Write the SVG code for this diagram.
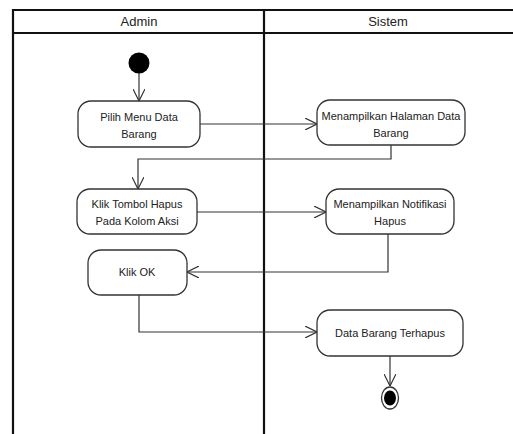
<svg xmlns="http://www.w3.org/2000/svg" width="513" height="434" viewBox="0 0 513 434">
<style>
.lane{stroke:#111;stroke-width:2.2;fill:none}
.node rect{fill:#fff;stroke:#333;stroke-width:1.3}
.node text{font-family:"Liberation Sans",Arial,sans-serif;font-size:11px;fill:#222;text-anchor:middle}
.hdr{font-family:"Liberation Sans",Arial,sans-serif;font-size:13px;fill:#222;text-anchor:middle}
.conn path{stroke:#333;stroke-width:1.2;fill:none}
</style>
<defs>
<marker id="arr" viewBox="0 0 12 12" refX="12" refY="6" markerWidth="12" markerHeight="12" markerUnits="userSpaceOnUse" orient="auto">
<path d="M0,0 L12,6 L0,12" fill="none" stroke="#333" stroke-width="1.2"/>
</marker>
</defs>
<rect width="513" height="434" fill="#fff"/>
<g id="lanes">
<path class="lane" d="M13,434 V10 H513 M13,33 H513 M264,10 V434"/>
<text class="hdr" x="139" y="26">Admin</text>
<text class="hdr" x="388" y="26">Sistem</text>
</g>
<g class="conn" id="connectors">
<path d="M139,73 V101" marker-end="url(#arr)"/>
<path d="M200,124 H317" marker-end="url(#arr)"/>
<path d="M391,145 V159 H138 V189" marker-end="url(#arr)"/>
<path d="M197,212 H326" marker-end="url(#arr)"/>
<path d="M388,234 V272 H187" marker-end="url(#arr)"/>
<path d="M139,295 V332 H317" marker-end="url(#arr)"/>
<path d="M390,356 V386" marker-end="url(#arr)"/>
</g>
<g id="start"><circle cx="139" cy="63" r="10.5" fill="#000"/></g>
<g class="node" id="n1"><rect x="78" y="101" width="122" height="46" rx="13"/><text x="139" y="121">Pilih Menu Data</text><text x="139" y="138">Barang</text></g>
<g class="node" id="n2"><rect x="317" y="100" width="148" height="45" rx="13"/><text x="391" y="120">Menampilkan Halaman Data</text><text x="391" y="137">Barang</text></g>
<g class="node" id="n3"><rect x="77" y="189" width="120" height="45" rx="13"/><text x="137" y="208">Klik Tombol Hapus</text><text x="137" y="225">Pada Kolom Aksi</text></g>
<g class="node" id="n4"><rect x="326" y="189" width="128" height="45" rx="13"/><text x="390" y="208">Menampilkan Notifikasi</text><text x="390" y="225">Hapus</text></g>
<g class="node" id="n5"><rect x="88" y="250" width="99" height="45" rx="13"/><text x="137" y="276">Klik OK</text></g>
<g class="node" id="n6"><rect x="317" y="310" width="146" height="46" rx="13"/><text x="390" y="337">Data Barang Terhapus</text></g>
<g id="end"><ellipse cx="390" cy="398" rx="8.5" ry="11" fill="#fff" stroke="#333" stroke-width="1.3"/><ellipse cx="390" cy="398" rx="6" ry="7.5" fill="#000"/></g>
</svg>
